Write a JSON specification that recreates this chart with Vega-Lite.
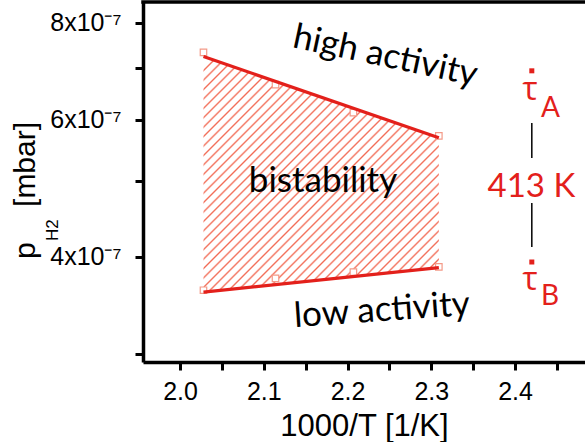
{
  "$schema": "https://vega.github.io/schema/vega-lite/v6.json",
  "width": 442,
  "height": 360,
  "autosize": {"type": "none"},
  "padding": {"left": 143, "top": 2, "right": 0, "bottom": 80},
  "background": "white",
  "config": {
    "view": {"stroke": null},
    "axis": {
      "grid": false,
      "domainColor": "black",
      "domainWidth": 3.5,
      "tickColor": "black",
      "tickWidth": 3,
      "tickSize": 8,
      "labelFont": "Liberation Sans",
      "labelFontSize": 25,
      "labelColor": "black",
      "titleFont": "Liberation Sans",
      "titleFontSize": 30,
      "titleFontWeight": "normal",
      "titleColor": "black",
      "labelOverlap": false,
      "labelFlush": false
    }
  },
  "datasets": {
    "bounds": [
      {"x": 2.028, "upper": 7.24e-7, "lower": 3.60e-7},
      {"x": 2.309, "upper": 5.69e-7, "lower": 3.87e-7}
    ],
    "measured": [
      {"x": 2.028, "p": 7.33e-7, "branch": "upper"},
      {"x": 2.114, "p": 6.66e-7, "branch": "upper"},
      {"x": 2.207, "p": 6.13e-7, "branch": "upper"},
      {"x": 2.309, "p": 5.72e-7, "branch": "upper"},
      {"x": 2.028, "p": 3.62e-7, "branch": "lower"},
      {"x": 2.114, "p": 3.75e-7, "branch": "lower"},
      {"x": 2.207, "p": 3.82e-7, "branch": "lower"},
      {"x": 2.309, "p": 3.88e-7, "branch": "lower"}
    ]
  },
  "encoding": {
    "x": {
      "type": "quantitative",
      "scale": {"type": "linear", "domain": [1.9558, 2.4835], "nice": false, "zero": false},
      "axis": {
        "title": "1000/T [1/K]",
        "values": [2.0, 2.05, 2.1, 2.15, 2.2, 2.25, 2.3, 2.35, 2.4, 2.45],
        "labelExpr": "abs(datum.value*10 - round(datum.value*10)) < 0.01 ? format(datum.value, '.1f') : ''",
        "labelFont": "Liberation Sans",
        "labelFontSize": 25,
        "labelPadding": 9,
        "titleFont": "Liberation Sans",
        "titleFontSize": 31,
        "titlePadding": 7
      }
    },
    "y": {
      "type": "quantitative",
      "scale": {"type": "log", "domain": [2.926e-7, 8.51e-7], "nice": false},
      "axis": {
        "title": null,
        "values": [3e-7, 4e-7, 5e-7, 6e-7, 7e-7, 8e-7],
        "labelExpr": "round(datum.value*1e7) % 2 == 0 ? round(datum.value*1e7) + 'x10⁻⁷' : ''",
        "labelFont": "Liberation Sans",
        "labelFontSize": 25,
        "labelPadding": 14
      }
    }
  },
  "layer": [
    {
      "data": {"name": "bounds"},
      "mark": {
        "type": "area",
        "fill": {
          "gradient": "linear",
          "x1": 0, "y1": 0, "x2": 1, "y2": 1,
          "stops": [
            {"offset": 0.026, "color": "#fff"}, {"offset": 0.03, "color": "#f26b55"}, {"offset": 0.034, "color": "#fff"},
            {"offset": 0.046, "color": "#fff"}, {"offset": 0.05, "color": "#f26b55"}, {"offset": 0.054, "color": "#fff"},
            {"offset": 0.066, "color": "#fff"}, {"offset": 0.07, "color": "#f26b55"}, {"offset": 0.074, "color": "#fff"},
            {"offset": 0.086, "color": "#fff"}, {"offset": 0.09, "color": "#f26b55"}, {"offset": 0.094, "color": "#fff"},
            {"offset": 0.106, "color": "#fff"}, {"offset": 0.11, "color": "#f26b55"}, {"offset": 0.114, "color": "#fff"},
            {"offset": 0.126, "color": "#fff"}, {"offset": 0.13, "color": "#f26b55"}, {"offset": 0.134, "color": "#fff"},
            {"offset": 0.146, "color": "#fff"}, {"offset": 0.15, "color": "#f26b55"}, {"offset": 0.154, "color": "#fff"},
            {"offset": 0.166, "color": "#fff"}, {"offset": 0.17, "color": "#f26b55"}, {"offset": 0.174, "color": "#fff"},
            {"offset": 0.186, "color": "#fff"}, {"offset": 0.19, "color": "#f26b55"}, {"offset": 0.194, "color": "#fff"},
            {"offset": 0.206, "color": "#fff"}, {"offset": 0.21, "color": "#f26b55"}, {"offset": 0.214, "color": "#fff"},
            {"offset": 0.226, "color": "#fff"}, {"offset": 0.23, "color": "#f26b55"}, {"offset": 0.234, "color": "#fff"},
            {"offset": 0.246, "color": "#fff"}, {"offset": 0.25, "color": "#f26b55"}, {"offset": 0.254, "color": "#fff"},
            {"offset": 0.266, "color": "#fff"}, {"offset": 0.27, "color": "#f26b55"}, {"offset": 0.274, "color": "#fff"},
            {"offset": 0.286, "color": "#fff"}, {"offset": 0.29, "color": "#f26b55"}, {"offset": 0.294, "color": "#fff"},
            {"offset": 0.306, "color": "#fff"}, {"offset": 0.31, "color": "#f26b55"}, {"offset": 0.314, "color": "#fff"},
            {"offset": 0.326, "color": "#fff"}, {"offset": 0.33, "color": "#f26b55"}, {"offset": 0.334, "color": "#fff"},
            {"offset": 0.346, "color": "#fff"}, {"offset": 0.35, "color": "#f26b55"}, {"offset": 0.354, "color": "#fff"},
            {"offset": 0.366, "color": "#fff"}, {"offset": 0.37, "color": "#f26b55"}, {"offset": 0.374, "color": "#fff"},
            {"offset": 0.386, "color": "#fff"}, {"offset": 0.39, "color": "#f26b55"}, {"offset": 0.394, "color": "#fff"},
            {"offset": 0.406, "color": "#fff"}, {"offset": 0.41, "color": "#f26b55"}, {"offset": 0.414, "color": "#fff"},
            {"offset": 0.426, "color": "#fff"}, {"offset": 0.43, "color": "#f26b55"}, {"offset": 0.434, "color": "#fff"},
            {"offset": 0.446, "color": "#fff"}, {"offset": 0.45, "color": "#f26b55"}, {"offset": 0.454, "color": "#fff"},
            {"offset": 0.466, "color": "#fff"}, {"offset": 0.47, "color": "#f26b55"}, {"offset": 0.474, "color": "#fff"},
            {"offset": 0.486, "color": "#fff"}, {"offset": 0.49, "color": "#f26b55"}, {"offset": 0.494, "color": "#fff"},
            {"offset": 0.506, "color": "#fff"}, {"offset": 0.51, "color": "#f26b55"}, {"offset": 0.514, "color": "#fff"},
            {"offset": 0.526, "color": "#fff"}, {"offset": 0.53, "color": "#f26b55"}, {"offset": 0.534, "color": "#fff"},
            {"offset": 0.546, "color": "#fff"}, {"offset": 0.55, "color": "#f26b55"}, {"offset": 0.554, "color": "#fff"},
            {"offset": 0.566, "color": "#fff"}, {"offset": 0.57, "color": "#f26b55"}, {"offset": 0.574, "color": "#fff"},
            {"offset": 0.586, "color": "#fff"}, {"offset": 0.59, "color": "#f26b55"}, {"offset": 0.594, "color": "#fff"},
            {"offset": 0.606, "color": "#fff"}, {"offset": 0.61, "color": "#f26b55"}, {"offset": 0.614, "color": "#fff"},
            {"offset": 0.626, "color": "#fff"}, {"offset": 0.63, "color": "#f26b55"}, {"offset": 0.634, "color": "#fff"},
            {"offset": 0.646, "color": "#fff"}, {"offset": 0.65, "color": "#f26b55"}, {"offset": 0.654, "color": "#fff"},
            {"offset": 0.666, "color": "#fff"}, {"offset": 0.67, "color": "#f26b55"}, {"offset": 0.674, "color": "#fff"},
            {"offset": 0.686, "color": "#fff"}, {"offset": 0.69, "color": "#f26b55"}, {"offset": 0.694, "color": "#fff"},
            {"offset": 0.706, "color": "#fff"}, {"offset": 0.71, "color": "#f26b55"}, {"offset": 0.714, "color": "#fff"},
            {"offset": 0.726, "color": "#fff"}, {"offset": 0.73, "color": "#f26b55"}, {"offset": 0.734, "color": "#fff"},
            {"offset": 0.746, "color": "#fff"}, {"offset": 0.75, "color": "#f26b55"}, {"offset": 0.754, "color": "#fff"},
            {"offset": 0.766, "color": "#fff"}, {"offset": 0.77, "color": "#f26b55"}, {"offset": 0.774, "color": "#fff"},
            {"offset": 0.786, "color": "#fff"}, {"offset": 0.79, "color": "#f26b55"}, {"offset": 0.794, "color": "#fff"},
            {"offset": 0.806, "color": "#fff"}, {"offset": 0.81, "color": "#f26b55"}, {"offset": 0.814, "color": "#fff"},
            {"offset": 0.826, "color": "#fff"}, {"offset": 0.83, "color": "#f26b55"}, {"offset": 0.834, "color": "#fff"},
            {"offset": 0.846, "color": "#fff"}, {"offset": 0.85, "color": "#f26b55"}, {"offset": 0.854, "color": "#fff"},
            {"offset": 0.866, "color": "#fff"}, {"offset": 0.87, "color": "#f26b55"}, {"offset": 0.874, "color": "#fff"},
            {"offset": 0.886, "color": "#fff"}, {"offset": 0.89, "color": "#f26b55"}, {"offset": 0.894, "color": "#fff"},
            {"offset": 0.906, "color": "#fff"}, {"offset": 0.91, "color": "#f26b55"}, {"offset": 0.914, "color": "#fff"},
            {"offset": 0.926, "color": "#fff"}, {"offset": 0.93, "color": "#f26b55"}, {"offset": 0.934, "color": "#fff"},
            {"offset": 0.946, "color": "#fff"}, {"offset": 0.95, "color": "#f26b55"}, {"offset": 0.954, "color": "#fff"},
            {"offset": 0.966, "color": "#fff"}, {"offset": 0.97, "color": "#f26b55"}, {"offset": 0.974, "color": "#fff"},
            {"offset": 0.986, "color": "#fff"}, {"offset": 0.99, "color": "#f26b55"}, {"offset": 0.994, "color": "#fff"}
          ]
        }
      },
      "encoding": {
        "x": {"field": "x"},
        "y": {"field": "upper"},
        "y2": {"field": "lower"}
      }
    },
    {
      "data": {"name": "measured"},
      "mark": {"type": "point", "shape": "square", "size": 42, "filled": true, "fill": "white", "stroke": "#f49a88", "strokeWidth": 1.2, "opacity": 1},
      "encoding": {
        "x": {"field": "x"},
        "y": {"field": "p"}
      }
    },
    {
      "data": {"name": "bounds"},
      "mark": {"type": "line", "color": "#e3201b", "strokeWidth": 3.2},
      "encoding": {
        "x": {"field": "x"},
        "y": {"field": "upper"}
      }
    },
    {
      "data": {"name": "bounds"},
      "mark": {"type": "line", "color": "#e3201b", "strokeWidth": 3.2},
      "encoding": {
        "x": {"field": "x"},
        "y": {"field": "lower"}
      }
    },
    {
      "data": {"values": [{"top": 8.51e-7}]},
      "mark": {"type": "rule", "color": "black", "strokeWidth": 3.5, "strokeCap": "square"},
      "encoding": {
        "x": null,
        "y": {"field": "top"}
      }
    },
    {
      "data": {"values": [{"label": "bistability", "x": 2.1707, "y": 4.846e-7}]},
      "mark": {"type": "text", "font": "Lato", "fontSize": 35, "color": "black", "align": "center", "baseline": "alphabetic"},
      "encoding": {
        "x": {"field": "x"},
        "y": {"field": "y"},
        "text": {"field": "label"}
      }
    },
    {
      "data": {"values": [{"label": "high activity", "x": 2.2424, "y": 7.03e-7}]},
      "mark": {"type": "text", "font": "Lato", "fontSize": 35, "color": "black", "align": "center", "baseline": "alphabetic", "angle": 12},
      "encoding": {
        "x": {"field": "x"},
        "y": {"field": "y"},
        "text": {"field": "label"}
      }
    },
    {
      "data": {"values": [{"label": "low activity", "x": 2.2418, "y": 3.304e-7}]},
      "mark": {"type": "text", "font": "Lato", "fontSize": 35, "color": "black", "align": "center", "baseline": "alphabetic", "angle": 356},
      "encoding": {
        "x": {"field": "x"},
        "y": {"field": "y"},
        "text": {"field": "label"}
      }
    },
    {
      "data": {"values": [{"x": 2.42, "y": 6.939e-7}, {"x": 2.42, "y": 3.936e-7}]},
      "mark": {"type": "point", "shape": "square", "size": 25, "filled": true, "color": "#e3201b", "opacity": 1},
      "encoding": {
        "x": {"field": "x"},
        "y": {"field": "y"}
      }
    },
    {
      "data": {"values": [{"label": "τ", "x": 2.418, "y": 6.366e-7}, {"label": "τ", "x": 2.418, "y": 3.622e-7}]},
      "mark": {"type": "text", "font": "Open Sans", "fontSize": 32, "color": "#e3201b", "align": "center", "baseline": "alphabetic"},
      "encoding": {
        "x": {"field": "x"},
        "y": {"field": "y"},
        "text": {"field": "label"}
      }
    },
    {
      "data": {"values": [{"label": "A", "x": 2.431, "y": 6.058e-7}, {"label": "B", "x": 2.431, "y": 3.465e-7}]},
      "mark": {"type": "text", "font": "Lato", "fontSize": 28, "color": "#e3201b", "align": "left", "baseline": "alphabetic"},
      "encoding": {
        "x": {"field": "x"},
        "y": {"field": "y"},
        "text": {"field": "label"}
      }
    },
    {
      "data": {"values": [{"label": "413 K", "x": 2.4195, "y": 4.779e-7}]},
      "mark": {"type": "text", "font": "Lato", "fontSize": 33, "color": "#e3201b", "align": "center", "baseline": "alphabetic"},
      "encoding": {
        "x": {"field": "x"},
        "y": {"field": "y"},
        "text": {"field": "label"}
      }
    },
    {
      "data": {"values": [{"x": 2.42, "y": 5.945e-7, "y2": 5.359e-7}, {"x": 2.42, "y": 4.689e-7, "y2": 4.115e-7}]},
      "mark": {"type": "rule", "color": "black", "strokeWidth": 1.5},
      "encoding": {
        "x": {"field": "x"},
        "y": {"field": "y"},
        "y2": {"field": "y2"}
      }
    },
    {
      "data": {"values": [{"label": "p", "x": 1.8268, "y": 3.972e-7}, {"label": "[mbar]", "x": 1.8268, "y": 4.634e-7}]},
      "mark": {"type": "text", "font": "Liberation Sans", "fontSize": 30, "color": "black", "align": "left", "baseline": "alphabetic", "angle": 270},
      "encoding": {
        "x": {"field": "x"},
        "y": {"field": "y"},
        "text": {"field": "label"}
      }
    },
    {
      "data": {"values": [{"label": "H2", "x": 1.8543, "y": 4.19e-7}]},
      "mark": {"type": "text", "font": "Liberation Sans", "fontSize": 17, "color": "black", "align": "left", "baseline": "alphabetic", "angle": 270},
      "encoding": {
        "x": {"field": "x"},
        "y": {"field": "y"},
        "text": {"field": "label"}
      }
    }
  ]
}
